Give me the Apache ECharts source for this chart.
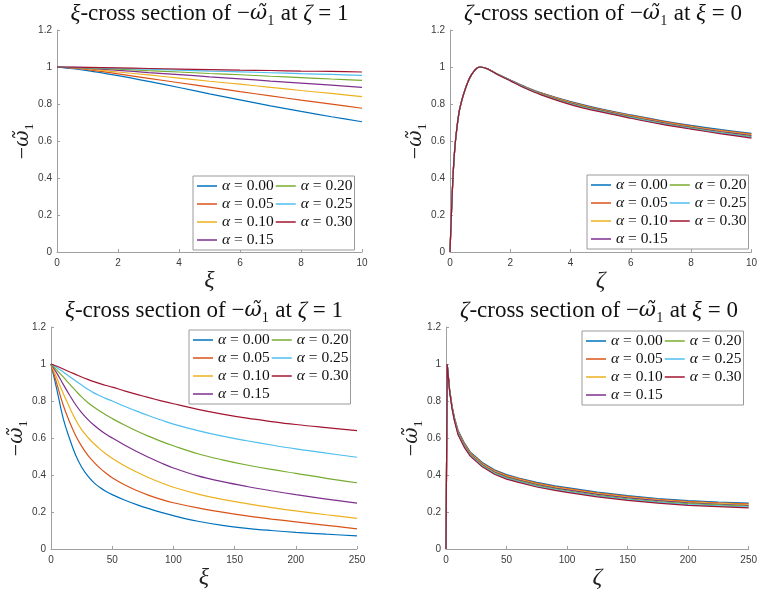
<!DOCTYPE html>
<html><head><meta charset="utf-8">
<script src="https://cdn.jsdelivr.net/npm/echarts@6/dist/echarts.min.js"></script>
<style>html,body{margin:0;padding:0;background:#fff}#c{width:760px;height:592px}</style>
</head><body><div id="c"></div>
<script>
// ---- labels ----
const alphaLabels = ['α = 0.00','α = 0.05','α = 0.10','α = 0.15','α = 0.20','α = 0.25','α = 0.30'];
const yTicks = [0, 0.2, 0.4, 0.6, 0.8, 1, 1.2];

// ---- panel 1: xi-cross section, xi in [0,10] ----
const p1_xi = [0,1,2,3,4,5,6,7,8,9,10];
const p1_a00 = [1,0.980,0.953,0.922,0.889,0.855,0.822,0.790,0.760,0.731,0.704];
const p1_a05 = [1,0.986,0.963,0.939,0.915,0.891,0.867,0.844,0.821,0.799,0.777];
const p1_a10 = [1,0.990,0.973,0.957,0.940,0.923,0.907,0.890,0.873,0.857,0.840];
const p1_a15 = [1,0.993,0.982,0.970,0.959,0.947,0.936,0.924,0.913,0.902,0.890];
const p1_a20 = [1,0.995,0.988,0.980,0.973,0.965,0.958,0.950,0.943,0.935,0.928];
const p1_a25 = [1,0.997,0.992,0.988,0.983,0.978,0.974,0.969,0.964,0.960,0.955];
const p1_a30 = [1,0.998,0.995,0.992,0.989,0.986,0.983,0.981,0.978,0.976,0.973];

// ---- panel 2: zeta-cross section, zeta in [0,10] ----
const p2_zeta = [0,0.05,0.1,0.15,0.2,0.3,0.4,0.5,0.6,0.7,0.8,0.9,1,1.25,1.5,2,2.5,3,4,5,6,7,8,9,10];
const p2_a00 = [0,0.22,0.41,0.54,0.63,0.755,0.825,0.878,0.922,0.955,0.978,0.994,1.0,0.990,0.968,0.930,0.893,0.862,0.813,0.774,0.741,0.710,0.684,0.661,0.641];
const p2_a05 = [0,0.22,0.41,0.54,0.63,0.755,0.825,0.878,0.922,0.955,0.978,0.994,1.0,0.990,0.968,0.929,0.892,0.860,0.810,0.771,0.738,0.707,0.681,0.657,0.637];
const p2_a10 = [0,0.22,0.41,0.54,0.63,0.755,0.825,0.878,0.922,0.955,0.978,0.994,1.0,0.990,0.967,0.928,0.890,0.858,0.808,0.768,0.735,0.704,0.677,0.654,0.633];
const p2_a15 = [0,0.22,0.41,0.54,0.63,0.755,0.825,0.878,0.922,0.955,0.978,0.994,1.0,0.990,0.967,0.928,0.889,0.857,0.805,0.766,0.732,0.701,0.674,0.650,0.629];
const p2_a20 = [0,0.22,0.41,0.54,0.63,0.755,0.825,0.878,0.922,0.955,0.978,0.994,1.0,0.989,0.967,0.927,0.888,0.855,0.802,0.763,0.729,0.697,0.671,0.646,0.624];
const p2_a25 = [0,0.22,0.41,0.54,0.63,0.755,0.825,0.878,0.922,0.955,0.978,0.994,1.0,0.989,0.966,0.926,0.886,0.853,0.800,0.760,0.726,0.694,0.667,0.643,0.620];
const p2_a30 = [0,0.22,0.41,0.54,0.63,0.755,0.825,0.878,0.922,0.955,0.978,0.994,1.0,0.989,0.966,0.925,0.885,0.851,0.797,0.757,0.723,0.691,0.664,0.639,0.616];

// ---- panel 3: xi-cross section, xi in [0,250] ----
const p3_xi = [0,5,10,15,20,25,30,35,40,45,50,60,70,80,90,100,120,140,160,180,200,225,250];
const p3_a00 = [1,0.855,0.705,0.600,0.510,0.443,0.395,0.359,0.332,0.311,0.294,0.265,0.240,0.218,0.198,0.180,0.150,0.128,0.112,0.100,0.090,0.080,0.071];
const p3_a05 = [1,0.888,0.777,0.690,0.615,0.556,0.508,0.470,0.437,0.409,0.385,0.347,0.316,0.290,0.268,0.250,0.222,0.199,0.179,0.162,0.147,0.128,0.109];
const p3_a10 = [1,0.920,0.840,0.768,0.700,0.645,0.604,0.570,0.540,0.513,0.490,0.450,0.416,0.385,0.358,0.334,0.297,0.268,0.245,0.224,0.206,0.185,0.166];
const p3_a15 = [1,0.948,0.890,0.834,0.781,0.737,0.701,0.670,0.643,0.620,0.600,0.562,0.527,0.495,0.465,0.438,0.395,0.364,0.338,0.315,0.294,0.270,0.248];
const p3_a20 = [1,0.966,0.930,0.893,0.857,0.822,0.792,0.767,0.745,0.724,0.705,0.670,0.638,0.609,0.582,0.558,0.515,0.482,0.454,0.430,0.409,0.382,0.358];
const p3_a25 = [1,0.980,0.957,0.933,0.909,0.886,0.864,0.844,0.828,0.813,0.800,0.772,0.745,0.720,0.697,0.675,0.640,0.610,0.585,0.562,0.541,0.518,0.496];
const p3_a30 = [1,0.988,0.973,0.958,0.944,0.930,0.917,0.905,0.894,0.884,0.875,0.855,0.836,0.818,0.801,0.785,0.755,0.729,0.707,0.689,0.673,0.656,0.640];

// ---- panel 4: zeta-cross section, zeta in [0,250] ----
const p4_zeta = [0,1,2,3,5,7,10,15,20,30,40,50,60,75,90,100,125,150,175,200,225,250];
const p4_a00 = [0,1,0.930,0.862,0.774,0.710,0.641,0.575,0.525,0.468,0.428,0.402,0.384,0.360,0.341,0.332,0.307,0.288,0.273,0.261,0.254,0.248];
const p4_a05 = [0,1,0.929,0.860,0.771,0.707,0.637,0.571,0.521,0.464,0.424,0.398,0.380,0.356,0.337,0.328,0.303,0.284,0.269,0.257,0.250,0.244];
const p4_a10 = [0,1,0.928,0.858,0.768,0.704,0.633,0.567,0.517,0.460,0.420,0.394,0.376,0.352,0.333,0.324,0.299,0.280,0.265,0.253,0.246,0.240];
const p4_a15 = [0,1,0.928,0.857,0.766,0.701,0.629,0.563,0.513,0.456,0.416,0.390,0.372,0.348,0.329,0.320,0.295,0.276,0.261,0.249,0.242,0.235];
const p4_a20 = [0,1,0.927,0.855,0.763,0.697,0.624,0.559,0.510,0.452,0.412,0.386,0.368,0.344,0.325,0.315,0.290,0.271,0.256,0.245,0.238,0.231];
const p4_a25 = [0,1,0.926,0.853,0.760,0.694,0.620,0.555,0.506,0.448,0.408,0.382,0.364,0.339,0.321,0.310,0.286,0.267,0.252,0.240,0.233,0.226];
const p4_a30 = [0,1,0.925,0.851,0.757,0.691,0.616,0.551,0.502,0.444,0.404,0.378,0.360,0.335,0.317,0.306,0.282,0.263,0.248,0.236,0.229,0.222];

// ---- assembly ----
const colors = ['#0072BD','#D95319','#EDB120','#7E2F8E','#77AC30','#4DBEEE','#A2142F'];
const panels = [
  {x: p1_xi,   ys: [p1_a00,p1_a05,p1_a10,p1_a15,p1_a20,p1_a25,p1_a30], xmax: 10,  xint: 2,  smooth: 0.3,
   grid: {left:57, top:30, width:305, height:222}, legend: {left:193, top:176},
   xName: 'ξ', titleVar: 'ξ', titleAt: 'ζ', titleVal: '1'},
  {x: p2_zeta, ys: [p2_a00,p2_a05,p2_a10,p2_a15,p2_a20,p2_a25,p2_a30], xmax: 10,  xint: 2,  smooth: 0.3,
   grid: {left:450, top:30, width:306, height:222}, legend: {left:587, top:175},
   xName: 'ζ', titleVar: 'ζ', titleAt: 'ξ', titleVal: '0'},
  {x: p3_xi,   ys: [p3_a00,p3_a05,p3_a10,p3_a15,p3_a20,p3_a25,p3_a30], xmax: 250, xint: 50, smooth: 0.4,
   grid: {left:51, top:327, width:306, height:222}, legend: {left:189, top:330},
   xName: 'ξ', titleVar: 'ξ', titleAt: 'ζ', titleVal: '1'},
  {x: p4_zeta, ys: [p4_a00,p4_a05,p4_a10,p4_a15,p4_a20,p4_a25,p4_a30], xmax: 250, xint: 50, smooth: false,
   grid: {left:446, top:327, width:306, height:222}, legend: {left:582, top:331},
   xName: 'ζ', titleVar: 'ζ', titleAt: 'ξ', titleVal: '0'}
];

const SERIF = '"Liberation Serif","DejaVu Serif",serif';
const DJ = '"DejaVu Serif",serif';
const SANS = '"Liberation Sans",Arial,sans-serif';
const axisGray = '#a0a0a0';
const lineIcon = 'path://M0,0 L20,0 L20,1.5 L0,1.5 Z';

const option = {
  animation: false,
  backgroundColor: '#fff',
  grid: [], xAxis: [], yAxis: [], series: [], legend: [], graphic: []
};

panels.forEach((p, pi) => {
  option.grid.push(Object.assign({containLabel:false}, p.grid));
  option.xAxis.push({
    type: 'value', gridIndex: pi, min: 0, max: p.xmax, interval: p.xint,
    name: p.xName, nameLocation: 'middle', nameGap: 15,
    nameTextStyle: {fontFamily: SERIF, fontStyle: 'italic', fontSize: 24, color: '#222'},
    axisLine: {show: true, onZero: false, lineStyle: {color: axisGray, width: 1}},
    axisTick: {show: true, inside: true, length: 3, lineStyle: {color: axisGray}},
    axisLabel: {fontFamily: SANS, fontSize: 10, color: '#3a3a3a', margin: 6},
    splitLine: {show: false}
  });
  option.yAxis.push({
    type: 'value', gridIndex: pi, min: 0, max: 1.2, interval: 0.2,
    name: '{r|−}{i|ω\u0303}{s|₁}', nameLocation: 'middle', nameGap: 23,
    nameTextStyle: {fontFamily: SERIF, fontSize: 22, color: '#222',
      rich: {r: {fontFamily: SERIF, fontSize: 22, color: '#222'},
             i: {fontFamily: DJ, fontSize: 20, fontStyle: 'italic', color: '#222'},
             s: {fontFamily: SERIF, fontSize: 22, color: '#222'}}},
    axisLine: {show: true, onZero: false, lineStyle: {color: axisGray, width: 1}},
    axisTick: {show: true, inside: true, length: 3, lineStyle: {color: axisGray}},
    axisLabel: {fontFamily: SANS, fontSize: 10, color: '#3a3a3a', margin: 5,
      formatter: v => { const t = yTicks.find(k => Math.abs(k - v) < 1e-9); return String(t !== undefined ? t : v); }},
    splitLine: {show: false}
  });
  p.ys.forEach((arr, k) => {
    option.series.push({
      type: 'line', name: alphaLabels[k], xAxisIndex: pi, yAxisIndex: pi,
      data: p.x.map((x, i) => [x, arr[i]]),
      symbol: 'none', smooth: p.smooth,
      lineStyle: {color: colors[k], width: 1.2},
      itemStyle: {color: colors[k]},
      emphasis: {disabled: true}
    });
  });
  option.legend.push({
    data: alphaLabels, orient: 'vertical', left: p.legend.left, top: p.legend.top,
    height: 72, itemWidth: 20, itemHeight: 14, itemGap: 2,
    icon: lineIcon,
    padding: [2, 2, 2, 4], borderColor: '#9a9a9a', borderWidth: 1, backgroundColor: '#fff',
    selectedMode: false,
    formatter: n => '{a|α}{t|' + n.slice(1) + '}',
    textStyle: {fontFamily: SERIF, fontSize: 15.5, color: '#111',
      rich: {a: {fontFamily: SERIF, fontStyle: 'italic', fontSize: 15.5, color: '#111'},
             t: {fontFamily: SERIF, fontSize: 15.5, color: '#111', padding: [0, 3, 0, 0]}}}
  });
  const cx = p.grid.left + p.grid.width / 2;
  const ty = p.grid.top - 28;
  option.graphic.push({
    type: 'text', x: cx, y: ty, silent: true,
    style: {
      text: '{i|' + p.titleVar + '}-cross section of −{w|ω\u0303}₁ at {i|' + p.titleAt + '} = ' + p.titleVal,
      fontFamily: SERIF, fontSize: 23, fill: '#111', align: 'center', verticalAlign: 'top',
      rich: {i: {fontFamily: SERIF, fontStyle: 'italic', fontSize: 23, fill: '#111'},
             w: {fontFamily: DJ, fontStyle: 'italic', fontSize: 21, fill: '#111'}}
    }
  });
});

const chart = echarts.init(document.getElementById('c'), null, {renderer: 'canvas'});
chart.setOption(option);
</script>
</body></html>
